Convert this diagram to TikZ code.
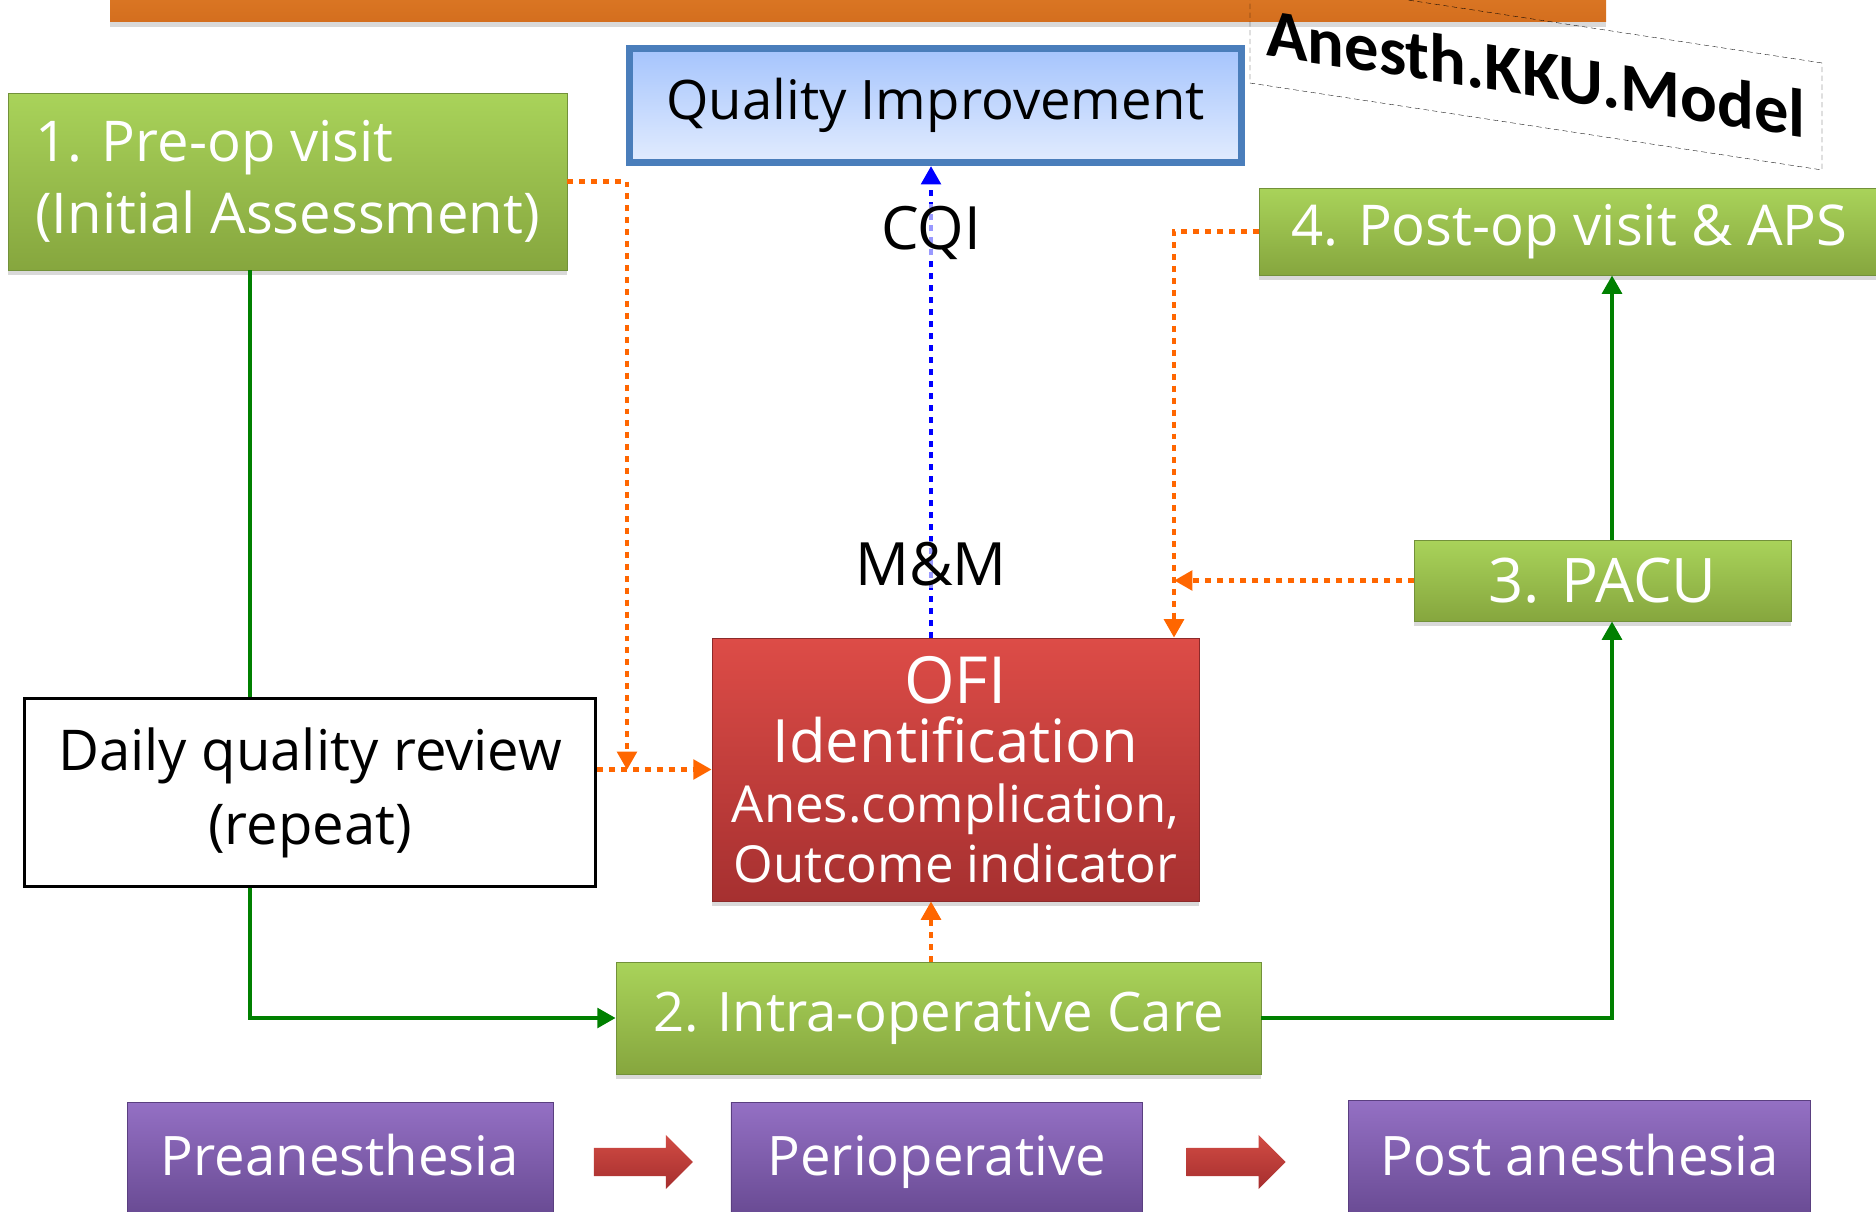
\documentclass[tikz,border=0pt]{standalone}
\usepackage{fontspec}
\setmainfont{Open Sans}
\newfontfamily\modelfont{Carlito}
\usepackage{tikz}
\usetikzlibrary{arrows.meta, positioning, shadows, shapes.arrows}

\definecolor{leafTop}{HTML}{A9D35A}
\definecolor{leafBottom}{HTML}{86A63E}
\definecolor{leafEdge}{HTML}{72913A}
\definecolor{emberTop}{HTML}{DD4C47}
\definecolor{emberBottom}{HTML}{A63030}
\definecolor{emberEdge}{HTML}{8C2A2A}
\definecolor{plumTop}{HTML}{9470C4}
\definecolor{plumBottom}{HTML}{664890}
\definecolor{plumEdge}{HTML}{5A3F80}
\definecolor{skyTop}{HTML}{A5C4FD}
\definecolor{skyBottom}{HTML}{E2ECFE}
\definecolor{skyEdge}{HTML}{4A7EBB}
\definecolor{barTop}{HTML}{E3822C}
\definecolor{barBottom}{HTML}{D46E1E}
\definecolor{flowGreen}{HTML}{008000}
\definecolor{feedOrange}{HTML}{FF6600}
\definecolor{pushTop}{HTML}{D24C44}
\definecolor{pushBottom}{HTML}{A52E2E}

\begin{document}
\begin{tikzpicture}[
            x = 0.02cm, y = -0.02cm, % work in pixels, y grows downward
            > = {Triangle[length=10.5pt, width=11pt]}, % arrow head style
            semithick % line style
        ]

        \tikzstyle{stage}=[
            draw = leafEdge,
            thin,
            top color = leafTop,
            bottom color = leafBottom,
            text = white,
            inner sep = 0pt,
            align = center,
            drop shadow = {shadow xshift=0pt, shadow yshift=-3pt, opacity=0.3}
        ]
        \tikzstyle{phase}=[
            draw = plumEdge,
            thin,
            top color = plumTop,
            bottom color = plumBottom,
            text = white,
            inner sep = 0pt,
            text height = 0.8cm,
            text depth = 0.26cm,
            minimum height = 2.4cm,
            font = \fontsize{31}{31}\selectfont
        ]
        \tikzstyle{push}=[
            single arrow,
            single arrow head extend = 0.26cm,
            minimum height = 1.98cm,
            inner xsep = 0pt,
            inner ysep = 0.27cm,
            top color = pushTop,
            bottom color = pushBottom
        ]
        \tikzstyle{flow}=[draw = flowGreen, line width = 2.8pt]
        \tikzstyle{feed}=[draw = feedOrange, line width = 2.8pt, dash pattern = on 3.4pt off 3.4pt]
        \tikzstyle{review}=[draw = blue, line width = 2.6pt, dash pattern = on 3.4pt off 3.4pt]
        \tikzstyle{tag}=[
            fill = white,
            fill opacity = 0.6,
            text opacity = 1,
            inner sep = 1pt,
            font = \fontsize{34}{34}\selectfont
        ]

        \useasboundingbox (0,0) rectangle (1876,1212);

        % banner cut by the top edge
        \path[top color = barTop, bottom color = barBottom,
            drop shadow = {shadow xshift=0pt, shadow yshift=-3pt, opacity=0.3}]
            (110,-40) rectangle (1606,22);

        \node[draw, densely dashed, very thin, shift = {(1536,73)}, yslant = -0.152, transform shape,
            minimum width = 11.44cm, minimum height = 2.14cm, inner sep = 0pt,
            font = \modelfont\bfseries\fontsize{39}{39}\selectfont] (model) at (0,0) {Anesth.KKU.Model};

        \node[draw = skyEdge, line width = 4pt, top color = skyTop, bottom color = skyBottom,
            minimum width = 12.24cm, minimum height = 2.28cm, inner sep = 0pt,
            font = \fontsize{31}{31}\selectfont] (qi) at (935.5,105.5) {Quality Improvement};

        \node[stage, minimum width = 11.18cm, minimum height = 3.54cm, align = left,
            font = \fontsize{32}{41}\selectfont] (pre) at (287.5,181.5) {1. Pre-op visit\\(Initial Assessment)};
        \node[stage, minimum width = 12.42cm, minimum height = 1.74cm,
            font = \fontsize{32}{32}\selectfont] (post) at (1569.5,231.5) {4. Post-op visit \& APS};
        \node[stage, minimum width = 7.54cm, minimum height = 1.62cm,
            font = \fontsize{35}{35}\selectfont] (pacu) at (1602.5,580.5) {3. PACU};
        \node[stage, minimum width = 12.9cm, minimum height = 2.24cm,
            font = \fontsize{31}{31}\selectfont] (intra) at (938.5,1018) {2. Intra-operative Care};

        \node[draw = emberEdge, thin, top color = emberTop, bottom color = emberBottom, text = white,
            minimum width = 9.74cm, minimum height = 5.26cm, inner sep = 0pt, align = center,
            font = \fontsize{29}{34}\selectfont,
            drop shadow = {shadow xshift=0pt, shadow yshift=-3pt, opacity=0.3}] (ofi) at (955.5,769.5)
            {{\fontsize{37}{34}\selectfont OFI}\\{\fontsize{34}{34}\selectfont Identification}\\Anes.complication,\\Outcome indicator};

        \node[draw, line width = 1.7pt, fill = white, minimum width = 11.42cm, minimum height = 3.76cm,
            inner sep = 0pt, align = center, font = \fontsize{32}{42}\selectfont] (daily) at (310,792.5)
            {Daily quality review\\(repeat)};

        % phases along the bottom
        \node[phase, minimum width = 8.52cm] (prean) at (340,1162) {Preanesthesia};
        \node[push] (arr1) [right=0.8cm of prean] {};
        \node[phase, minimum width = 8.24cm] (peri) [right=0.74cm of arr1] {Perioperative};
        \node[push] (arr2) [right=0.86cm of peri] {};
        \node[phase, minimum width = 9.24cm, minimum height = 2.48cm] (postan) [right=1.24cm of arr2] {Post anesthesia};

        \coordinate (gL) at (250,0);
        \coordinate (gR) at (1612,0);
        \coordinate (mid) at (931,0);
        \coordinate (oL) at (627,770);
        \coordinate (oR) at (1174,0);

        % patient path
        \draw[flow] (pre.south -| gL) -- (daily.north -| gL);
        \draw[flow, ->] (daily.south -| gL) |- (intra.west);
        \draw[flow, ->] (intra.east) -| (pacu.south -| gR);
        \draw[flow, ->] (pacu.north -| gR) -- (post.south -| gR);

        % findings fed to OFI
        \draw[feed, ->] (pre.east) -| (oL);
        \draw[feed, ->] (daily.east |- ofi.west) -- (ofi.west);
        \draw[feed, ->] (intra.north -| mid) -- (ofi.south -| mid);
        \draw[feed, ->] (post.west) -| (ofi.north -| oR);
        \draw[feed, ->] (pacu.west) -- (pacu.west -| oR);

        \draw[review, ->] (ofi.north -| mid) -- node[tag, pos=0.155] (mm) {M\&M}
            node[tag, pos=0.858] (cqi) {CQI} (qi.south -| mid);
    \end{tikzpicture}
\end{document}
